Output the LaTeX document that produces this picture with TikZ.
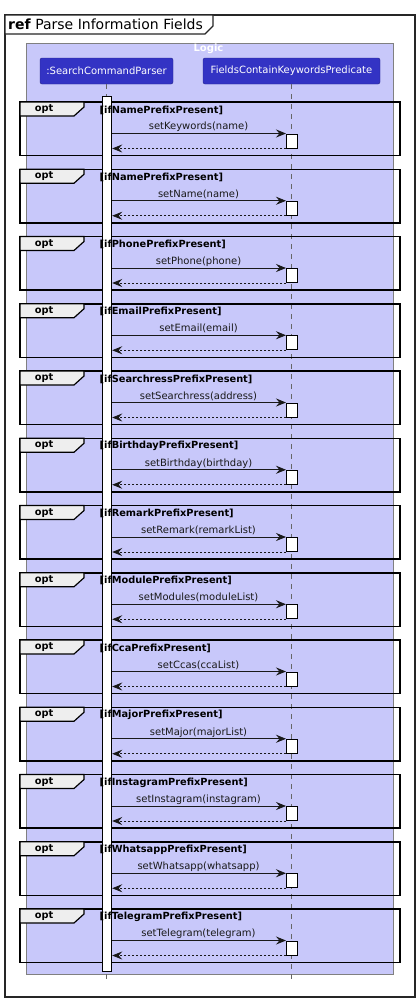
\documentclass[tikz,border=0pt]{standalone}
\usepackage{fontspec}
\setmainfont{DejaVu Sans}
\usetikzlibrary{arrows.meta}
\definecolor{logicbg}{RGB}{200,200,250}
\definecolor{partbg}{RGB}{51,51,196}
\definecolor{tabbg}{RGB}{238,238,238}
\tikzset{
  framebox/.style={draw=black, line width=1.5pt},
  opttab/.style={draw=black, line width=1.2pt, fill=tabbg},
  participant/.style={draw=partbg!70!black, fill=partbg, rounded corners=2pt, text=white, font=\fontsize{10}{12}\selectfont, minimum height=26pt, inner sep=0pt},
  lifeline/.style={draw=gray!80!black, dash pattern=on 5pt off 5pt, line width=0.6pt},
  actbar/.style={draw=black, fill=white, line width=1pt, inner sep=0pt},
  msg/.style={-{Stealth[length=10pt,width=8pt,inset=3.5pt]}, line width=0.8pt, draw=black!90},
  ret/.style={msg, dash pattern=on 2pt off 2pt},
  msgtext/.style={font=\fontsize{10}{12}\selectfont, inner sep=0pt, text=black!90},
  guard/.style={font=\bfseries\fontsize{9.8}{12}\selectfont, inner sep=0pt, anchor=west},
  opttext/.style={font=\bfseries\fontsize{9.8}{12}\selectfont, inner sep=0pt},
}
\begin{document}
\begin{tikzpicture}[x=1pt,y=-1pt]
\useasboundingbox (0,0) rectangle (420,1002);
\fill[white] (0,0) rectangle (420,1002);
% ref frame
\draw[line width=1.3pt, draw=black!85] (5,15) rectangle (415,997);
\draw[line width=1.3pt, draw=black!85, fill=white] (5,15) -- (213,15) -- (213,26) -- (205,34) -- (5,34) -- cycle;
\node[anchor=base west, inner sep=0pt, font=\fontsize{14}{16}\selectfont] (title) at (8,29.5) {\textbf{ref} Parse Information Fields};
% Logic box
\draw[fill=logicbg, draw=gray, line width=0.8pt] (26.7,43) rectangle (393,974);
\node[font=\bfseries\fontsize{10}{12}\selectfont, text=white, inner sep=0pt] (logic) at (208.5,49) {Logic};
% participants
\node[participant, minimum width=133pt] (pA) at (106.5,71) {:SearchCommandParser};
\node[participant, minimum width=177pt] (pB) at (291.5,71) {FieldsContainKeywordsPredicate};
\coordinate (endA) at (106.5,980);
\coordinate (endB) at (291.5,980);
\draw[lifeline] (pA.south) -- (endA);
\draw[lifeline] (pB.south) -- (endB);
% opt frames
\foreach \i in {0,...,12}{
  \pgfmathsetmacro{\t}{102+67.25*\i}
  \draw[framebox] (20,\t) rectangle (400,{\t+53.5});
  \draw[opttab] (20,\t) -- (84,\t) -- (84,{\t+5}) -- (74,{\t+14}) -- (20,{\t+14}) -- cycle;
  \node[opttext] (opt\i) at (44,{\t+7.3}) {opt};
}
% activation bar on caller
\node[actbar, anchor=north west, minimum width=9.7pt, minimum height=875pt] (bar) at (101.5,96) {};
% messages
\foreach \g/\m [count=\i from 0] in {
  ifNamePrefixPresent/setKeywords(name),
  ifNamePrefixPresent/setName(name),
  ifPhonePrefixPresent/setPhone(phone),
  ifEmailPrefixPresent/setEmail(email),
  ifSearchressPrefixPresent/setSearchress(address),
  ifBirthdayPrefixPresent/setBirthday(birthday),
  ifRemarkPrefixPresent/setRemark(remarkList),
  ifModulePrefixPresent/setModules(moduleList),
  ifCcaPrefixPresent/setCcas(ccaList),
  ifMajorPrefixPresent/setMajor(majorList),
  ifInstagramPrefixPresent/setInstagram(instagram),
  ifWhatsappPrefixPresent/setWhatsapp(whatsapp),
  ifTelegramPrefixPresent/setTelegram(telegram)}{
  \pgfmathsetmacro{\t}{102+67.25*\i}
  \node[guard] (guard\i) at (99.5,{\t+8}) {[\g]};
  \node[actbar, anchor=north west, minimum width=10.5pt, minimum height=14pt] (act\i) at (286,{\t+31.5}) {};
  \node[msgtext] (msg\i) at (198.5,{\t+25}) {\m};
  \draw[msg] (bar.east |- act\i.north west) -- (act\i.north west);
  \draw[ret] (act\i.south west) -- (bar.east |- act\i.south west);
}
\end{tikzpicture}
\end{document}
